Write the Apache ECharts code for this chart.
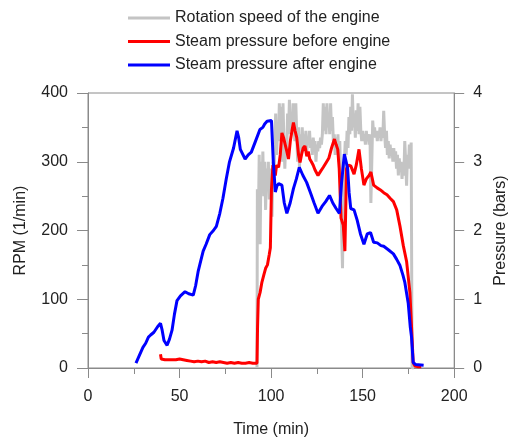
<!DOCTYPE html>
<html>
<head>
<meta charset="utf-8">
<script src="https://cdn.jsdelivr.net/npm/echarts@6/dist/echarts.min.js"></script>
<style>html,body{margin:0;padding:0;background:#fff}#c{width:517px;height:443px}</style>
</head>
<body>
<div id="c"></div>
<script>
var seriesNames = ['Rotation speed of the engine', 'Steam pressure before engine', 'Steam pressure after engine'];
var xTicks = [0, 50, 100, 150, 200];
var rpmTicks = [0, 100, 200, 300, 400];
var pressureTicks = [0, 1, 2, 3, 4];

// Rotation speed (RPM) vs time (min)
var rpm = [[92.3,0],[92.5,260],[93.0,200],[93.5,310],[94.0,180],[94.5,300],[95.0,260],[95.5,315],[96.0,250],[96.5,300],[97.0,230],[97.5,290],[98.0,260],[98.5,300],[99.0,245],[99.5,290],[100.0,270],[100.5,220],[101.0,300],[101.5,260],[102.0,330],[102.5,370],[103.0,310],[103.5,350],[104.0,330],[104.5,385],[105.0,340],[105.5,380],[106.0,300],[106.5,385],[107.0,330],[107.5,290],[108.0,330],[108.5,310],[109.0,370],[109.5,340],[110.0,390],[110.5,345],[111.0,370],[111.5,340],[112.0,385],[112.5,350],[113.0,330],[113.5,385],[114.0,340],[114.5,300],[115.0,350],[115.5,290],[116.0,340],[116.5,310],[117.0,350],[117.5,320],[118.0,340],[118.5,325],[119.0,345],[119.5,315],[120.0,335],[120.5,325],[121.0,345],[121.5,320],[122.0,330],[122.5,310],[123.0,335],[123.5,320],[124.0,330],[124.5,300],[125.0,325],[125.5,315],[126.0,330],[126.5,320],[127.0,335],[127.5,325],[128.0,340],[128.5,385],[129.0,345],[129.5,380],[130.0,340],[130.5,385],[131.0,350],[131.5,370],[132.0,340],[132.5,385],[133.0,345],[133.5,365],[134.0,330],[134.5,340],[135.0,310],[135.5,335],[136.0,315],[136.5,340],[137.0,300],[137.5,330],[138.0,280],[138.5,200],[139.0,145],[139.5,250],[140.0,300],[140.5,330],[141.0,310],[141.5,345],[142.0,320],[142.5,365],[143.0,340],[143.5,380],[144.0,345],[144.4,398],[145.0,350],[145.5,370],[146.0,335],[146.5,375],[147.0,345],[147.5,385],[148.0,340],[148.5,380],[149.0,345],[149.5,330],[150.0,345],[150.5,330],[151.0,340],[151.5,325],[152.0,345],[152.5,330],[153.0,340],[153.5,325],[154.0,340],[154.5,240],[155.0,300],[155.5,360],[156.0,340],[156.5,350],[157.0,335],[157.5,345],[158.0,330],[158.5,345],[159.0,335],[159.5,350],[160.0,330],[160.5,345],[161.0,335],[161.5,374],[162.0,340],[162.5,320],[163.0,345],[163.5,310],[164.0,330],[164.5,305],[165.0,325],[165.5,310],[166.0,320],[166.5,300],[167.0,320],[167.5,300],[168.0,315],[168.5,290],[169.0,310],[169.5,280],[170.0,305],[170.5,285],[171.0,300],[171.5,275],[172.0,295],[172.5,280],[173.0,330],[173.5,300],[174.0,265],[174.5,310],[175.0,290],[175.5,325],[176.0,300],[176.5,328],[177.0,0],[178.0,0]];

// Steam pressure before engine (bars)
var pBefore = [[39.6,0.20],[40.0,0.13],[41,0.15],[42,0.12],[43,0.14],[44,0.12],[45,0.13],[46,0.12],[47,0.13],[48,0.12],[49,0.12],[50,0.13],[51,0.11],[52,0.12],[53,0.13],[54,0.11],[55,0.12],[56,0.10],[57,0.11],[58,0.09],[60,0.10],[62,0.09],[64,0.10],[66,0.08],[68,0.09],[70,0.08],[72,0.09],[74,0.08],[76,0.07],[78,0.08],[80,0.07],[82,0.08],[84,0.07],[86,0.07],[88,0.08],[90,0.07],[92.3,0.07],[92.6,0.6],[93.0,1.0],[94,1.1],[95,1.25],[96,1.35],[97,1.45],[98,1.5],[99,1.65],[99.6,1.75],[100.2,2.6],[101.0,2.95],[102.3,2.80],[103.0,2.95],[104.1,2.92],[105.0,3.1],[105.9,3.42],[106.8,3.35],[107.7,3.25],[108.6,3.15],[109.5,3.04],[110.5,3.3],[111.4,3.45],[112.2,3.57],[113.1,3.45],[114.0,3.35],[115.0,3.1],[115.8,2.99],[116.6,3.1],[117.5,3.2],[118.5,3.23],[119.5,3.08],[120.3,3.15],[121.1,3.04],[122,3.0],[123,2.95],[124,2.88],[125.6,2.80],[127,2.86],[128.5,2.92],[130.1,2.99],[131.5,3.05],[133,3.2],[134.6,3.33],[135.5,3.25],[136.4,3.18],[137.2,2.9],[138.2,2.18],[139.4,2.08],[140.3,1.70],[141.2,2.90],[142.3,2.95],[143.5,2.94],[145.3,2.82],[146.5,2.95],[148.0,3.18],[149.3,2.9],[150.7,2.66],[152,2.75],[153.5,2.8],[154.5,2.85],[156,2.66],[157.9,2.62],[159.7,2.59],[161.5,2.55],[163.3,2.52],[165,2.47],[166.8,2.42],[168.6,2.30],[170.4,2.06],[172.2,1.78],[174.0,1.55],[175.8,1.1],[176.7,0.6],[177.6,0.08],[178.5,0.03],[180,0.02],[182,0.02]];

// Steam pressure after engine (bars)
var pAfter = [[26.2,0.07],[28,0.18],[30,0.30],[31.5,0.36],[33,0.45],[34.2,0.48],[36,0.52],[38,0.6],[39.6,0.65],[40.5,0.55],[41.5,0.40],[43.2,0.33],[44.5,0.42],[45.9,0.55],[47.2,0.78],[48.6,0.98],[50.5,1.05],[53.0,1.11],[55,1.08],[57.5,1.06],[58.8,1.2],[60.2,1.41],[61.5,1.55],[62.9,1.70],[64.5,1.80],[66.5,1.94],[68.5,2.0],[70.1,2.06],[72,2.25],[73.7,2.47],[75.5,2.75],[77.2,2.99],[79.5,3.2],[81.4,3.45],[82.3,3.35],[83.2,3.18],[85.8,3.04],[87.5,3.1],[89.2,3.14],[91.5,3.3],[93.9,3.47],[95.5,3.5],[96.5,3.55],[97.8,3.59],[98.7,3.61],[100.2,3.60],[101.2,3.0],[102.3,2.56],[103.2,2.65],[104.1,2.68],[105.9,2.66],[107.2,2.4],[108.6,2.25],[110.4,2.4],[112.2,2.61],[113.8,2.75],[115.4,2.92],[117.4,2.8],[119.4,2.70],[121.5,2.55],[123.5,2.4],[125.6,2.25],[127.8,2.35],[129.8,2.42],[131.9,2.51],[133.7,2.4],[135.5,2.32],[137.3,2.25],[138.5,2.7],[140.0,3.11],[141.0,3.0],[141.8,2.90],[142.6,2.55],[143.5,2.32],[145.3,2.30],[147,2.15],[148.8,1.95],[150.7,1.80],[152.5,1.95],[154.3,1.97],[156,1.83],[158,1.82],[160,1.78],[161.5,1.77],[164,1.72],[166.8,1.66],[168.6,1.58],[170.4,1.49],[172,1.35],[173,1.25],[174.9,0.94],[176.0,0.6],[176.7,0.45],[177.6,0.08],[179,0.05],[183.3,0.04]];

var FONT = 'Liberation Sans, Arial, sans-serif';
var axisColor = '#8a8a8a';
var textColor = '#222';

var chart = echarts.init(document.getElementById('c'), null, {renderer: 'canvas'});
chart.setOption({
  animation: false,
  backgroundColor: '#fff',
  legend: {
    orient: 'vertical',
    left: 128,
    top: 9,
    padding: 0,
    itemWidth: 42,
    itemHeight: 14,
    itemGap: 5.5,
    icon: 'path://M0,6 L42,6 L42,9 L0,9 Z',
    textStyle: {fontFamily: FONT, fontSize: 16, color: textColor, lineHeight: 18},
    data: seriesNames
  },
  grid: {left: 88, right: 57, top: 93, bottom: 71, show: true, borderColor: axisColor, borderWidth: 1, containLabel: false},
  xAxis: {
    type: 'value', min: xTicks[0], max: xTicks[xTicks.length-1], interval: 50,
    name: 'Time (min)', nameLocation: 'middle', nameGap: 54,
    nameTextStyle: {fontFamily: FONT, fontSize: 16, color: textColor},
    axisLine: {show: true, lineStyle: {color: axisColor, width: 1}},
    axisTick: {show: true, inside: false, length: 10, lineStyle: {color: axisColor}},
    minorTick: {show: true, splitNumber: 2, length: 6, lineStyle: {color: axisColor}},
    splitLine: {show: false},
    axisLabel: {fontFamily: FONT, fontSize: 16, color: textColor, margin: 21}
  },
  yAxis: [{
    type: 'value', min: rpmTicks[0], max: rpmTicks[rpmTicks.length-1], interval: 100,
    name: 'RPM (1/min)', nameLocation: 'middle', nameGap: 59, nameRotate: 90,
    nameTextStyle: {fontFamily: FONT, fontSize: 16, color: textColor},
    axisLine: {show: true, lineStyle: {color: axisColor, width: 1}},
    axisTick: {show: true, inside: false, length: 11, lineStyle: {color: axisColor}},
    minorTick: {show: true, splitNumber: 2, length: 6, lineStyle: {color: axisColor}},
    splitLine: {show: false},
    axisLabel: {fontFamily: FONT, fontSize: 16, color: textColor, margin: 20}
  }, {
    type: 'value', position: 'right', min: pressureTicks[0], max: pressureTicks[pressureTicks.length-1], interval: 1,
    name: 'Pressure (bars)', nameLocation: 'middle', nameGap: 38, nameRotate: 90,
    nameTextStyle: {fontFamily: FONT, fontSize: 16, color: textColor},
    axisLine: {show: true, lineStyle: {color: axisColor, width: 1}},
    axisTick: {show: true, inside: false, length: 10, lineStyle: {color: axisColor}},
    minorTick: {show: true, splitNumber: 2, length: 5, lineStyle: {color: axisColor}},
    splitLine: {show: false},
    axisLabel: {fontFamily: FONT, fontSize: 16, color: textColor, margin: 19}
  }],
  series: [{
    name: seriesNames[0], type: 'line', yAxisIndex: 0, data: rpm, step: 'end',
    showSymbol: false, symbol: 'none', color: '#c4c4c4',
    lineStyle: {color: '#c4c4c4', width: 3}
  }, {
    name: seriesNames[1], type: 'line', yAxisIndex: 1, data: pBefore,
    showSymbol: false, symbol: 'none', color: '#ff0000',
    lineStyle: {color: '#ff0000', width: 3}
  }, {
    name: seriesNames[2], type: 'line', yAxisIndex: 1, data: pAfter,
    showSymbol: false, symbol: 'none', color: '#0000ff',
    lineStyle: {color: '#0000ff', width: 3}
  }]
});
</script>
</body>
</html>
